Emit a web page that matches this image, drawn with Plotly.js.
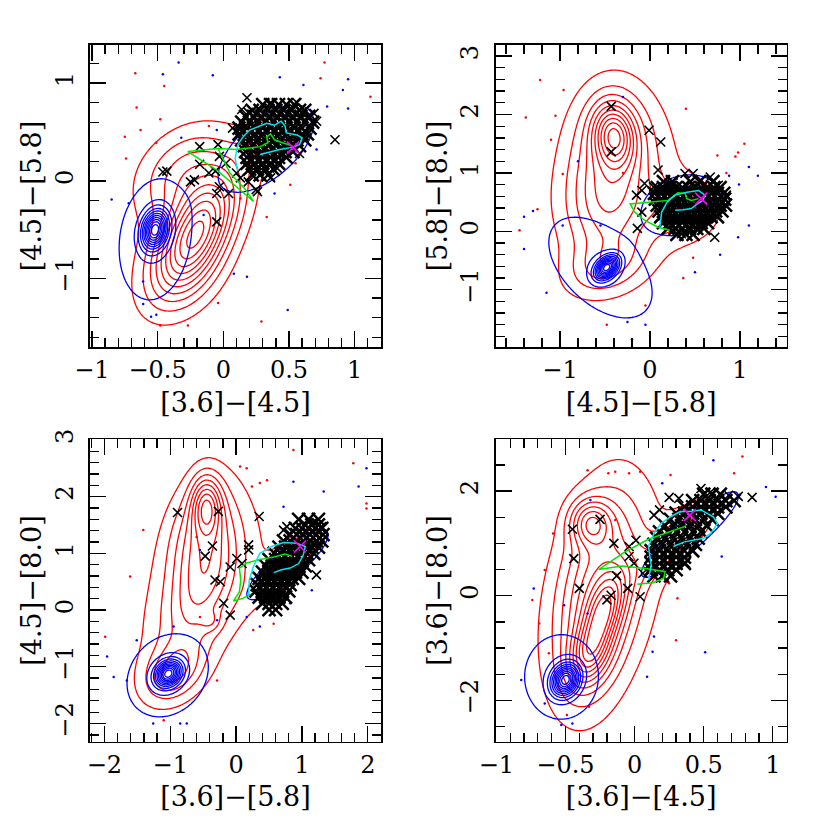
<!DOCTYPE html>
<html>
<head>
<meta charset="utf-8">
<script src="https://cdn.plot.ly/plotly-3.0.1.min.js"></script>
<style>body{margin:0;background:#fff}#plot{width:830px;height:830px}</style>
</head>
<body>
<div id="plot"></div>
<script>
// axis titles, one per panel (top-left, top-right, bottom-left, bottom-right)
var xTitles = ['[3.6]\u2212[4.5]', '[4.5]\u2212[5.8]', '[3.6]\u2212[5.8]', '[3.6]\u2212[4.5]'];
var yTitles = ['[4.5]\u2212[5.8]', '[5.8]\u2212[8.0]', '[4.5]\u2212[8.0]', '[3.6]\u2212[8.0]'];
var xRanges = [[-1.015, 1.2], [-1.715, 1.52], [-2.22, 2.2], [-1.005, 1.1]];
var yRanges = [[-1.7, 1.39], [-1.98, 3.19], [-2.32, 3.01], [-2.79, 2.99]];

// density lumps: [x0, y0, sx, sy, rho, weight]
var p1Red = [[-0.2, -0.52, 0.19, 0.36, 0.55, 0.8], [-0.3, 0.1, 0.25, 0.32, 0.3, 0.28], [-0.3, -0.95, 0.2, 0.3, 0.3, 0.2],
             [-0.2, -0.45, 0.33, 0.6, 0.5, 0.15], [0.38, 0.45, 0.18, 0.2, 0.5, 0.15]];
var p1Blue = [[-0.52, -0.5, 0.065, 0.13, 0.2, 20], [-0.52, -0.6, 0.19, 0.43, 0.15, 2.8], [0.33, 0.33, 0.25, 0.31, 0.6, 2.8]];
var p2Red = [[-0.4, 1.65, 0.15, 0.35, -0.1, 0.6], [-0.4, 1.5, 0.3, 0.7, 0, 0.35], [-0.5, 0.4, 0.3, 0.6, 0, 0.3],
             [-0.5, -0.6, 0.3, 0.35, 0.3, 0.25], [0.35, 0.35, 0.3, 0.35, 0, 0.18], [-0.25, 0.7, 0.65, 1.2, 0, 0.12]];
var p2Blue = [[-0.48, -0.62, 0.085, 0.13, 0.4, 20], [-0.55, -0.62, 0.4, 0.6, -0.5, 2.8], [0.36, 0.45, 0.31, 0.36, 0.2, 2.8]];
var p3Red = [[-0.45, 1.85, 0.15, 0.35, 0, 0.5], [-0.5, 1.3, 0.35, 0.7, 0.2, 0.4], [-0.55, 0.2, 0.4, 0.7, 0.5, 0.3],
             [-0.95, -1.1, 0.3, 0.35, 0.3, 0.35], [0.75, 0.8, 0.35, 0.4, 0.75, 0.15], [-0.5, 0.3, 0.95, 1.3, 0.4, 0.11],
             [-0.38, -0.2, 0.1, 0.12, 0, 0.12]];
var p3Blue = [[-1.03, -1.12, 0.13, 0.15, 0.2, 20], [-1.04, -1.15, 0.43, 0.51, 0.2, 2.8], [0.78, 0.8, 0.43, 0.43, 0.85, 2.8]];
var p4Red = [[-0.32, 1.4, 0.1, 0.3, 0, 0.45], [-0.22, -0.3, 0.1, 0.5, 0.5, 0.5], [-0.33, -1.15, 0.1, 0.4, 0.3, 0.45],
             [-0.27, 0.0, 0.2, 1.3, 0.3, 0.45], [-0.2, 0.1, 0.35, 1.6, 0.4, 0.15], [0.3, 1.1, 0.22, 0.55, 0.8, 0.2]];
var p4Blue = [[-0.5, -1.61, 0.065, 0.2, 0.2, 20], [-0.53, -1.55, 0.185, 0.56, 0, 2.8], [0.4, 1.17, 0.245, 0.57, 0.9, 2.8]];

// black crosses: the dense clump, row by row [y, [x...]]
var p1Clump = [[0.78, [.30, .36, .42, .48, .54]], [0.72, [.22, .28, .34, .40, .46, .52, .58, .62]],
  [0.66, [.17, .23, .29, .35, .41, .47, .53, .59, .65]], [0.60, [.14, .20, .26, .32, .38, .44, .50, .56, .62, .68]],
  [0.54, [.12, .18, .24, .30, .36, .42, .48, .54, .60, .66]], [0.48, [.12, .18, .24, .30, .36, .42, .48, .54, .60, .64]],
  [0.42, [.14, .20, .26, .32, .38, .44, .50, .56, .62]], [0.36, [.16, .22, .28, .34, .40, .46, .52, .58]],
  [0.30, [.17, .23, .29, .35, .41, .47, .53]], [0.24, [.18, .24, .30, .36, .42, .48]],
  [0.18, [.18, .24, .30, .36, .42]], [0.12, [.20, .26, .32, .38]], [0.06, [.22, .28, .34]]];
var p2Clump = [[0.85, [.15, .25, .45, .55, .70]], [0.75, [.08, .15, .22, .29, .36, .43, .50, .57, .64, .71, .78]],
  [0.65, [.05, .12, .19, .26, .33, .40, .47, .54, .61, .68, .75, .82]], [0.55, [.06, .13, .20, .27, .34, .41, .48, .55, .62, .69, .76, .83]],
  [0.45, [.08, .15, .22, .29, .36, .43, .50, .57, .64, .71, .78, .84]], [0.35, [.10, .17, .24, .31, .38, .45, .52, .59, .66, .73, .80]],
  [0.25, [.12, .19, .26, .33, .40, .47, .54, .61, .68, .75]], [0.15, [.15, .22, .29, .36, .43, .50, .57, .64]],
  [0.05, [.20, .28, .36, .44, .52, .60]], [-0.05, [.30, .40, .48]]];
var p3Clump = [[1.60, [0.95, 1.10, 1.25]], [1.50, [1.05, 1.15, 1.25]], [1.44, [0.90, 1.00, 1.10, 1.20, 1.30]],
  [1.33, [0.82, 0.92, 1.02, 1.12, 1.22, 1.32]], [1.22, [0.72, 0.82, 0.92, 1.02, 1.12, 1.22, 1.30]],
  [1.11, [0.65, 0.75, 0.85, 0.95, 1.05, 1.15, 1.25]], [1.00, [0.58, 0.68, 0.78, 0.88, 0.98, 1.08, 1.18]],
  [0.89, [0.50, 0.60, 0.70, 0.80, 0.90, 1.00, 1.10]], [0.78, [0.45, 0.55, 0.65, 0.75, 0.85, 0.95, 1.05]],
  [0.67, [0.40, 0.50, 0.60, 0.70, 0.80, 0.90, 1.00]], [0.56, [0.35, 0.45, 0.55, 0.65, 0.75, 0.85, 0.95]],
  [0.45, [0.32, 0.42, 0.52, 0.62, 0.72, 0.82]], [0.34, [0.30, 0.40, 0.50, 0.60, 0.70, 0.80]],
  [0.23, [0.35, 0.45, 0.55, 0.65, 0.75]], [0.12, [0.40, 0.50, 0.60, 0.70]], [0.01, [0.50, 0.60]]];
var p4Clump = [[1.94, [0.50, 0.56, 0.62]], [1.82, [0.42, 0.48, 0.54, 0.60, 0.66, 0.72]], [1.70, [0.36, 0.42, 0.48, 0.54, 0.60, 0.66]],
  [1.58, [0.30, 0.36, 0.42, 0.48, 0.54, 0.60]], [1.46, [0.26, 0.32, 0.38, 0.44, 0.50, 0.56]], [1.34, [0.22, 0.28, 0.34, 0.40, 0.46, 0.52]],
  [1.22, [0.18, 0.24, 0.30, 0.36, 0.42, 0.48]], [1.10, [0.16, 0.22, 0.28, 0.34, 0.40, 0.46]], [0.98, [0.14, 0.20, 0.26, 0.32, 0.38, 0.44]],
  [0.86, [0.12, 0.18, 0.24, 0.30, 0.36, 0.42]], [0.74, [0.12, 0.18, 0.24, 0.30, 0.36]], [0.62, [0.12, 0.18, 0.24, 0.30, 0.36]],
  [0.50, [0.12, 0.18, 0.24, 0.30]], [0.38, [0.14, 0.20, 0.26]]];

// black crosses away from the clump [x, y]
var p1Crosses = [[0.18, 0.85], [0.85, 0.42], [0.07, 0.54], [-0.04, 0.37], [-0.18, 0.35], [-0.43, 0.10], [-0.46, 0.09], [-0.18, 0.17],
  [-0.11, 0.08], [-0.06, 0.10], [-0.25, -0.01], [-0.22, 0.01], [-0.05, -0.13], [-0.03, -0.06], [-0.05, -0.42], [0.04, -0.13],
  [0.25, -0.09], [0.26, -0.11], [0.19, -0.01], [0.36, 0.03], [0.13, 0.03], [0.10, 0.08], [-0.03, 0.25], [0.02, 0.18],
  [0.71, 0.61], [0.69, 0.69], [0.56, 0.80], [0.36, 0.80], [0.14, 0.73], [0.19, 0.70], [0.58, 0.28], [0.41, 0.13], [0.13, 0.53]];
var p2Crosses = [[-0.43, 2.14], [-0.01, 1.73], [0.12, 1.53], [-0.43, 1.36], [0.09, 1.05], [-0.06, 0.82], [-0.09, 0.70], [-0.15, 0.62],
  [-0.09, 0.33], [-0.14, 0.05], [0.72, -0.10], [0.39, 0.99], [0.48, 0.99], [0.67, 0.93], [0.76, 0.79], [0.85, 0.62], [0.57, 0.19],
  [0.65, 0.22], [0.44, 0.07], [0.35, -0.04], [0.17, 0.82], [0.04, 0.76], [0.57, 0.87]];
var p3Crosses = [[-0.89, 1.72], [-0.27, 1.74], [0.35, 1.65], [-0.36, 1.13], [-0.47, 0.95], [0.19, 1.15], [0.19, 1.06], [0.01, 0.91],
  [-0.09, 0.76], [-0.32, 0.53], [-0.24, 0.50], [-0.09, -0.09], [-0.19, 0.12], [1.22, 0.62], [0.09, 0.82], [0.77, 1.47], [0.72, 1.41],
  [1.17, 1.55], [1.30, 1.47]];
var p4Crosses = [[-0.45, 1.27], [-0.25, 1.46], [-0.44, 0.71], [-0.40, 0.14], [-0.15, 1.00], [-0.13, 0.38], [-0.20, -0.08], [-0.17, 0.01],
  [-0.04, 0.94], [0.01, 1.06], [-0.04, 0.75], [-0.005, 0.62], [-0.05, 0.14], [0.04, -0.02], [0.85, 1.88], [0.25, 1.88], [0.32, 1.86],
  [0.18, 1.64], [0.14, 1.54], [0.37, 0.62], [0.06, 0.43], [0.10, 0.46], [0.48, 2.05], [0.55, 1.98], [0.68, 1.92], [0.75, 1.90]];

// model tracks [x, y]
var p1Cyan = [[0.11, 0.10], [0.09, 0.23], [0.11, 0.37], [0.15, 0.45], [0.20, 0.52], [0.28, 0.56], [0.33, 0.59], [0.39, 0.57], [0.44, 0.61],
  [0.47, 0.56], [0.48, 0.49], [0.56, 0.47], [0.60, 0.44], [0.58, 0.37], [0.51, 0.34], [0.43, 0.32], [0.36, 0.30], [0.28, 0.27]];
var p1Green = [[0.53, 0.35], [0.50, 0.37], [0.45, 0.39], [0.39, 0.42], [0.36, 0.48], [0.33, 0.45], [0.34, 0.39], [0.28, 0.35], [0.10, 0.32],
  [-0.04, 0.33], [-0.27, 0.30], [-0.05, 0.11], [0.10, -0.06], [0.23, -0.21], [0.17, -0.09], [0.05, 0.08], [-0.04, 0.33]];
var p2Cyan = [[0.11, 0.07], [0.13, 0.33], [0.19, 0.50], [0.28, 0.62], [0.41, 0.67], [0.54, 0.70], [0.61, 0.62], [0.59, 0.53], [0.52, 0.46],
  [0.46, 0.39], [0.37, 0.37], [0.28, 0.36]];
var p2Green = [[0.54, 0.56], [0.46, 0.53], [0.41, 0.56], [0.39, 0.65], [0.31, 0.66], [0.28, 0.62], [0.20, 0.53], [-0.02, 0.50], [-0.22, 0.47],
  [-0.17, 0.33], [-0.06, 0.19], [0.09, 0.07], [0.22, 0.02]];
var p3Cyan = [[0.19, 0.26], [0.20, 0.53], [0.26, 0.76], [0.36, 1.00], [0.54, 1.12], [0.72, 1.19], [0.92, 1.18], [1.05, 1.12], [1.02, 0.97],
  [0.95, 0.82], [0.82, 0.74], [0.69, 0.71], [0.57, 0.66]];
var p3Green = [[0.85, 0.95], [0.74, 0.99], [0.59, 0.94], [0.36, 0.89], [0.16, 0.83], [0.05, 0.74], [0.07, 0.53], [0.05, 0.32], [-0.04, 0.16],
  [0.11, 0.21], [0.21, 0.28]];
var p4Cyan = [[0.10, 0.30], [0.12, 0.59], [0.10, 0.94], [0.14, 1.19], [0.19, 1.38], [0.26, 1.51], [0.33, 1.61], [0.40, 1.61], [0.48, 1.64],
  [0.57, 1.51], [0.60, 1.38], [0.55, 1.19], [0.50, 1.10], [0.43, 1.07], [0.36, 1.03], [0.28, 0.94]];
var p4Green = [[0.37, 1.33], [0.25, 1.22], [0.10, 1.08], [-0.07, 0.84], [-0.26, 0.50], [-0.09, 0.57], [0.08, 0.52], [0.22, 0.46], [0.21, 0.33],
  [0.13, 0.25], [0.02, 0.22]];
var magenta = [[0.53, 0.34], [0.57, 0.56], [0.97, 1.12], [0.40, 1.54]];

// stray red and blue sources [x, y]
var p1RedDots = [[-0.67, 1.10], [-0.45, 0.97], [-0.66, 0.75], [-0.75, 0.45], [-0.63, 0.52], [-0.48, 0.63], [-0.51, 0.39], [0.77, 1.21],
  [0.74, 1.05], [1.12, 0.86], [-0.74, 0.23], [0.51, -0.04], [0.55, 0.18], [-0.04, -1.25], [-0.27, -1.48], [0.29, -1.44], [-0.48, -1.48],
  [0.13, -0.18], [0.33, -0.37], [-0.11, 0.56], [0.23, 0.66]];
var p1BlueDots = [[-0.34, 1.21], [-0.46, 1.09], [-0.08, 1.08], [0.43, 1.06], [0.61, 0.98], [0.95, 1.04], [0.91, 0.93], [0.95, 0.74],
  [0.79, 0.76], [-0.85, -0.19], [-0.72, -0.23], [-0.32, 0.44], [0.08, -0.95], [0.18, -0.98], [0.49, -1.32], [-0.61, -1.03], [-0.61, -1.26],
  [-0.55, -1.39], [-0.51, -1.37], [0.39, -0.13], [-0.15, -0.35], [-0.05, 0.52], [0.71, 0.32]];
var p2RedDots = [[-1.22, 2.59], [-0.96, 2.42], [-1.05, 1.98], [-1.38, 1.95], [-1.1, 1.57], [-0.97, 0.98], [-1.25, 0.38], [-1.45, 0.02],
  [0.85, 1.0], [1.05, 1.5], [0.98, 1.35], [0.95, 1.28], [0.37, -0.8], [-0.48, -1.6], [-0.05, -1.27], [0.48, -0.45], [-0.3, 1.0],
  [0.4, 2.1], [0.75, 1.3]];
var p2BlueDots = [[1.1, 1.1], [1.2, 0.95], [0.88, 0.95], [0.99, 0.8], [1.1, 0.1], [0.98, -0.1], [0.78, -0.4], [0.5, -0.7], [-1.4, 0.25],
  [-1.3, 0.35], [-0.97, 0.1], [-0.25, -1.55], [-0.05, -1.6], [-0.2, -1.85], [-1.15, -1.05], [-0.8, 1.2], [-0.55, 0.1], [-1.4, -0.3],
  [0.3, 0.9], [-0.3, 2.3]];
var p3RedDots = [[0.06, 2.53], [0.16, 2.5], [0.24, 2.18], [0.36, 2.24], [0.47, 2.29], [0.87, 2.82], [1.78, 2.59], [1.98, 1.88], [1.98, 1.79],
  [-0.6, 1.29], [-1.61, 0.59], [-1.41, 1.41], [-1.99, -0.47], [0.26, -0.35], [0.57, -0.24], [-0.29, -1.24], [-1.1, -1.94], [-0.55, -0.12],
  [0.82, 1.29]];
var p3BlueDots = [[1.98, 2.5], [1.86, 2.18], [1.33, 2.09], [0.87, 2.26], [0.72, 1.82], [1.15, 0.35], [0.82, 0.12], [0.36, -0.29],
  [0.16, -0.12], [-0.55, 1.06], [-1.66, -1.24], [-1.86, -1.18], [-1.96, -0.82], [-1.51, -0.53], [-1.26, -2.0], [-0.85, -2.0], [-0.75, -2.0],
  [-0.29, -0.18], [-0.95, -0.29]];
var p4RedDots = [[-0.34, 2.4], [-0.19, 2.34], [-0.14, 2.37], [-0.04, 2.34], [0.04, 2.37], [0.26, 2.31], [0.72, 2.34], [0.78, 2.66],
  [-0.65, 0.49], [-0.74, -0.08], [-0.69, -0.53], [0.3, -0.85], [0.31, -0.05], [0.25, 0.24], [-0.49, -2.28], [-0.33, -2.12], [-0.59, 1.19],
  [-0.14, 1.45], [-0.62, -1.1]];
var p4BlueDots = [[0.57, 2.59], [0.95, 2.08], [1.02, 1.89], [0.63, 0.75], [0.14, -0.78], [0.13, -1.07], [0.51, -1.08], [0.09, -1.55],
  [-0.82, -1.61], [-0.73, 0.14], [-0.51, -0.18], [-0.34, -0.34], [-0.32, 1.83], [0.2, 2.15], [-0.53, -2.47], [-0.45, -2.44], [-0.65, -2.06]];

var panels = [
  {red: p1Red, blue: p1Blue, clump: p1Clump, crosses: p1Crosses, cyan: p1Cyan, green: p1Green, redDots: p1RedDots, blueDots: p1BlueDots},
  {red: p2Red, blue: p2Blue, clump: p2Clump, crosses: p2Crosses, cyan: p2Cyan, green: p2Green, redDots: p2RedDots, blueDots: p2BlueDots},
  {red: p3Red, blue: p3Blue, clump: p3Clump, crosses: p3Crosses, cyan: p3Cyan, green: p3Green, redDots: p3RedDots, blueDots: p3BlueDots},
  {red: p4Red, blue: p4Blue, clump: p4Clump, crosses: p4Crosses, cyan: p4Cyan, green: p4Green, redDots: p4RedDots, blueDots: p4BlueDots}
];

function density(lumps, x, y) {
  var s = 0;
  lumps.forEach(function(b) {
    var dx = (x - b[0]) / b[2], dy = (y - b[1]) / b[3], r = b[4];
    s += b[5] * Math.exp(-0.5 * (dx * dx - 2 * r * dx * dy + dy * dy) / (1 - r * r));
  });
  return s;
}

function grid(lo, hi, n) {
  var a = [];
  for (var i = 0; i < n; i++) a.push(lo + (hi - lo) * i / (n - 1));
  return a;
}

function ax(letter, i) { return i === 0 ? letter : letter + (i + 1); }

function contourTrace(lumps, i, color, start, end, size) {
  var gx = grid(xRanges[i][0], xRanges[i][1], 160), gy = grid(yRanges[i][0], yRanges[i][1], 160);
  var z = gy.map(function(y) { return gx.map(function(x) { return density(lumps, x, y); }); });
  return {
    type: 'contour', x: gx, y: gy, z: z, xaxis: ax('x', i), yaxis: ax('y', i),
    autocontour: false, contours: {coloring: 'lines', start: start, end: end, size: size, showlabels: false},
    colorscale: [[0, color], [1, color]], showscale: false, hoverinfo: 'skip',
    line: {width: 1.3, smoothing: 0.6}
  };
}

function pts(list, i, mode, extra) {
  var t = {type: 'scatter', mode: mode, x: list.map(function(p) { return p[0]; }), y: list.map(function(p) { return p[1]; }),
    xaxis: ax('x', i), yaxis: ax('y', i), hoverinfo: 'skip', showlegend: false};
  for (var k in extra) t[k] = extra[k];
  return t;
}

var data = [];
panels.forEach(function(p, i) {
  var clumpPts = [];
  p.clump.forEach(function(row) { row[1].forEach(function(x) { clumpPts.push([x, row[0]]); }); });
  data.push(pts(p.redDots, i, 'markers', {marker: {color: '#ff0000', size: 2.5}}));
  data.push(pts(p.blueDots, i, 'markers', {marker: {color: '#0000ff', size: 2.5}}));
  data.push(contourTrace(p.red, i, '#ff0000', 0.1, 1.0, 0.1));
  data.push(contourTrace(p.blue, i, '#0000ff', 1, 21, 2));
  data.push(pts(clumpPts, i, 'markers',
    {marker: {symbol: 'x-thin-open', size: 13, color: 'black', line: {width: 2.5, color: 'black'}}}));
  data.push(pts(p.crosses, i, 'markers',
    {marker: {symbol: 'x-thin-open', size: 9, color: 'black', line: {width: 1.6, color: 'black'}}}));
  data.push(pts(p.green, i, 'lines', {line: {color: '#00e600', width: 1.5}}));
  data.push(pts(p.cyan, i, 'lines', {line: {color: '#00e5ee', width: 1.5}}));
  data.push(pts([magenta[i]], i, 'markers',
    {marker: {symbol: 'x-thin-open', size: 12, color: '#ff00ff', line: {width: 1.6, color: '#ff00ff'}}}));
});

var tickFont = {family: 'DejaVu Serif', size: 24, color: 'black'};
var titleFont = {family: 'DejaVu Serif', size: 27, color: 'black'};
var xDomains = [[0.1084, 0.459], [0.5972, 0.9478], [0.1084, 0.459], [0.5972, 0.9478]];
var yDomains = [[0.5819, 0.9458], [0.5819, 0.9458], [0.1064, 0.4707], [0.1064, 0.4707]];
var xTicks = [[0.5, 0.1], [1, 0.2], [1, 0.2], [0.5, 0.1]];
var yTicks = [[1, 0.2], [1, 0.2], [1, 0.2], [2, 0.5]];

function axis(range, domain, anchor, ticks, title, isY) {
  var a = {
    range: range, domain: domain, anchor: anchor, showgrid: false, zeroline: false, fixedrange: true,
    showline: true, linecolor: 'black', linewidth: 1.6, mirror: 'allticks',
    ticks: 'inside', ticklen: 16, tickwidth: 1.3, tickcolor: 'black', tick0: 0, dtick: ticks[0],
    minor: {ticks: 'inside', ticklen: 9, tickwidth: 1.3, tickcolor: 'black', tick0: 0, dtick: ticks[1], showgrid: false},
    tickfont: tickFont, ticklabelstandoff: isY ? 6 : 1,
    title: {text: title, font: titleFont, standoff: isY ? 1 : 9}
  };
  if (isY) a.tickangle = -90;
  return a;
}

var layout = {
  width: 830, height: 830, margin: {l: 0, r: 0, t: 0, b: 0},
  paper_bgcolor: 'white', plot_bgcolor: 'white', showlegend: false
};
for (var i = 0; i < 4; i++) {
  layout[ax('xaxis', i)] = axis(xRanges[i], xDomains[i], ax('y', i), xTicks[i], xTitles[i], false);
  layout[ax('yaxis', i)] = axis(yRanges[i], yDomains[i], ax('x', i), yTicks[i], yTitles[i], true);
}

Plotly.newPlot('plot', data, layout, {displayModeBar: false, staticPlot: true});
</script>
</body>
</html>
